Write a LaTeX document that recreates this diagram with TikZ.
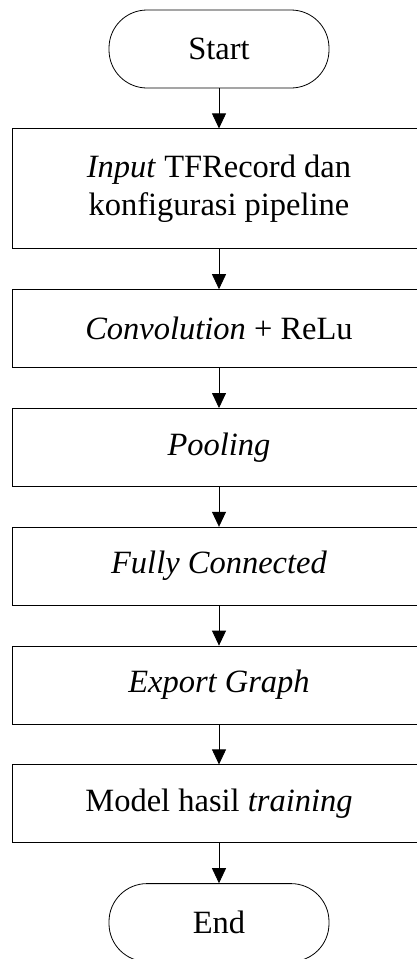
\documentclass[tikz,border=0pt]{standalone}
\usepackage{fontspec}
\setmainfont{Liberation Serif}
\usetikzlibrary{positioning,arrows.meta}

\begin{document}
\begin{tikzpicture}[x=1pt, y=1pt, node distance=40pt,
  every node/.style={draw, line width=0.8pt, font=\fontsize{32.5pt}{38pt}\selectfont, align=center},
  terminal/.style={minimum width=220pt, minimum height=78pt, rounded corners=38pt},
  process/.style={minimum width=414pt, minimum height=78pt},
  flow/.style={line width=0.8pt, -{Triangle[width=14pt,length=15pt]}}]
  \useasboundingbox (0,0) rectangle (417,-959);
  \clip (0,0) rectangle (417,-959);
  \node[terminal] (start) at (219,-49) {Start};
  \node[process, minimum height=120pt, below=of start] (input) {\textit{Input} TFRecord dan\\konfigurasi pipeline};
  \node[process, below=of input] (conv) {\textit{Convolution} + ReLu};
  \node[process, below=of conv] (pool) {\textit{Pooling}};
  \node[process, below=of pool] (fc) {\textit{Fully Connected}};
  \node[process, below=of fc] (export) {\textit{Export Graph}};
  \node[process, below=of export] (model) {Model hasil \textit{training}};
  \node[terminal, below=of model] (end) {End};
  \draw[flow] (start) -- (input);
  \draw[flow] (input) -- (conv);
  \draw[flow] (conv) -- (pool);
  \draw[flow] (pool) -- (fc);
  \draw[flow] (fc) -- (export);
  \draw[flow] (export) -- (model);
  \draw[flow] (model) -- (end);
\end{tikzpicture}
\end{document}
